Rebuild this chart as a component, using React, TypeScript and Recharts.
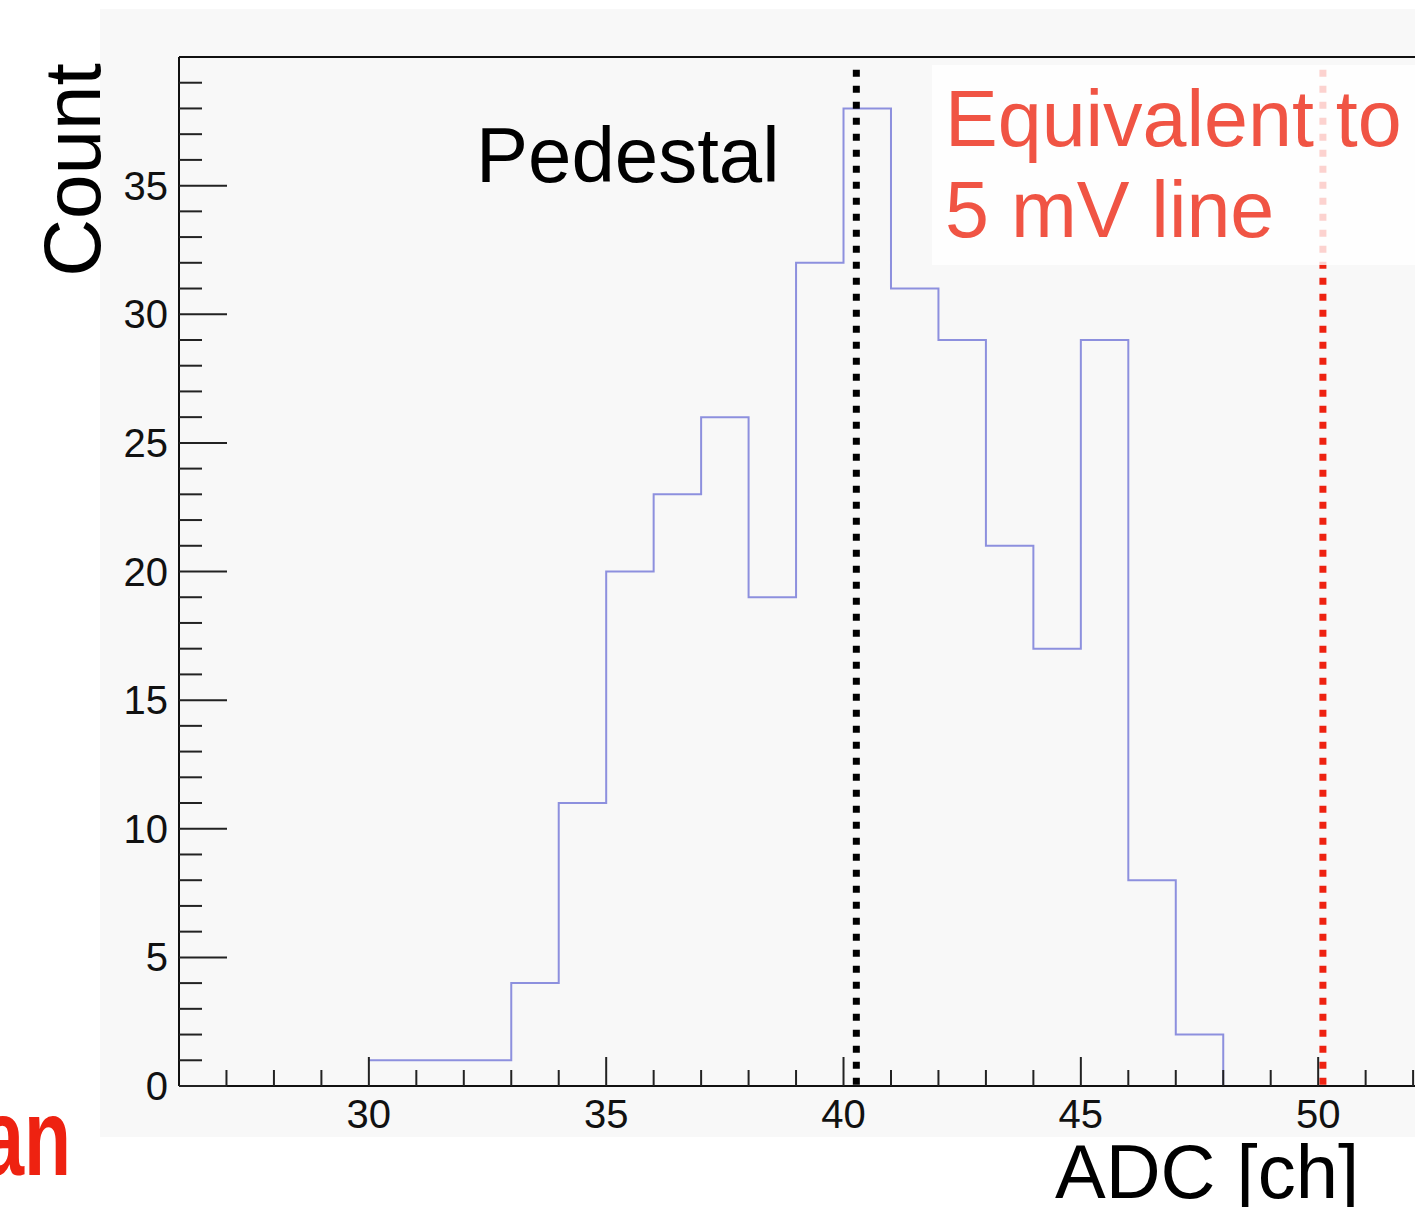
import React from "react";
import { ComposedChart, Line, XAxis, YAxis, ReferenceLine } from "recharts";

// histogram bins (lower edge) and their counts
const binLow = [30, 31, 32, 33, 34, 35, 36, 37, 38, 39, 40, 41, 42, 43, 44, 45, 46, 47];
const lastEdge = 48;
const counts = [1, 1, 1, 4, 11, 20, 23, 26, 19, 32, 38, 31, 29, 21, 17, 29, 8, 2];

const xTicks = [26, 27, 28, 29, 30, 31, 32, 33, 34, 35, 36, 37, 38, 39, 40, 41, 42, 43, 44, 45, 46, 47, 48, 49, 50, 51, 52];
const xLabels = [30, 35, 40, 45, 50];
const yTicks = [0, 1, 2, 3, 4, 5, 6, 7, 8, 9, 10, 11, 12, 13, 14, 15, 16, 17, 18, 19, 20, 21, 22, 23, 24, 25, 26, 27, 28, 29, 30, 31, 32, 33, 34, 35, 36, 37, 38, 39];
const yLabels = [0, 5, 10, 15, 20, 25, 30, 35];

const pedestalAdc = 40.27;
const fiveMvAdc = 50.1;
const markerTop = 39.5;

const FONT = "'Liberation Sans', Arial, Helvetica, sans-serif";

const data = [
    ...binLow.map((x, i) => ({ adc: x, count: counts[i] })),
    { adc: lastEdge, count: 0 },
];

function XTick(props: any) {
    const { x, y, payload } = props;
    const v = payload.value;
    if (v <= 26) return <g />;
    const major = v % 5 === 0;
    return (
        <g>
            <line x1={x} y1={y} x2={x} y2={y - (major ? 29 : 16)} stroke="#222" strokeWidth={2} />
            {xLabels.includes(v) && (
                <text x={x} y={y + 42} textAnchor="middle" fontSize={40} fill="#111" fontFamily={FONT}>
                    {v}
                </text>
            )}
        </g>
    );
}

function YTick(props: any) {
    const { x, y, payload } = props;
    const v = payload.value;
    const major = v % 5 === 0;
    return (
        <g>
            <line x1={x} y1={y} x2={x + (major ? 48 : 23)} y2={y} stroke="#222" strokeWidth={2} />
            {yLabels.includes(v) && (
                <text x={x - 11} y={y + 14} textAnchor="end" fontSize={40} fill="#111" fontFamily={FONT}>
                    {v}
                </text>
            )}
        </g>
    );
}

export default function App() {
    return (
        <div style={{ position: "absolute", left: 0, top: 0, width: 1415, height: 1207, overflow: "hidden", background: "#fff" }}>
            <div style={{ position: "absolute", left: 100, top: 9, width: 1315, height: 1128, background: "#f8f8f8" }} />
            <div style={{ position: "absolute", left: 0, top: 0 }}>
                <ComposedChart width={1415} height={1207} data={data} margin={{ top: 57, right: 0, left: 0, bottom: 0 }}>
                    <XAxis
                        dataKey="adc"
                        type="number"
                        domain={[26, 52.04]}
                        allowDataOverflow
                        ticks={xTicks}
                        interval={0}
                        tick={XTick}
                        tickLine={false}
                        tickSize={0}
                        tickMargin={0}
                        height={121}
                        axisLine={{ stroke: "#111", strokeWidth: 2 }}
                    />
                    <YAxis
                        type="number"
                        domain={[0, 40]}
                        allowDataOverflow
                        ticks={yTicks}
                        interval={0}
                        tick={YTick}
                        tickLine={false}
                        tickSize={0}
                        tickMargin={0}
                        width={179}
                        axisLine={{ stroke: "#111", strokeWidth: 2 }}
                    />
                    <ReferenceLine y={40} stroke="#111" strokeWidth={2} ifOverflow="visible" />
                    <Line
                        type="stepAfter"
                        dataKey="count"
                        stroke="#8d90de"
                        strokeWidth={2}
                        dot={false}
                        activeDot={false}
                        isAnimationActive={false}
                    />
                    <ReferenceLine
                        segment={[{ x: pedestalAdc, y: markerTop }, { x: pedestalAdc, y: 0 }]}
                        stroke="#000"
                        strokeWidth={7}
                        strokeDasharray="7 9"
                    />
                    <ReferenceLine
                        segment={[{ x: fiveMvAdc, y: markerTop }, { x: fiveMvAdc, y: 0 }]}
                        stroke="#ee2211"
                        strokeWidth={7}
                        strokeDasharray="7 9"
                    />
                </ComposedChart>
            </div>
            <svg
                width={1415}
                height={1207}
                style={{ position: "absolute", left: 0, top: 0, pointerEvents: "none" }}
                fontFamily={FONT}
            >
                <rect x={932} y={65} width={483} height={200} fill="#fff" fillOpacity={0.8} />
                <text x={945} y={146} fontSize={79} fill="#f05444">Equivalent to</text>
                <text x={945} y={237} fontSize={79} fill="#f05444">5 mV line</text>
                <text x={476} y={182} fontSize={78} fill="#000">Pedestal</text>
                <text x={100} y={170} fontSize={80} fill="#000" textAnchor="middle" transform="rotate(-90 100 170)">
                    Count
                </text>
                <text x={1055} y={1198} fontSize={76} fill="#000">ADC [ch]</text>
                <g transform="translate(71 1175) scale(0.7 1)">
                    <text x={0} y={0} fontSize={110} fontWeight="bold" fill="#ee2211" textAnchor="end">an</text>
                </g>
            </svg>
        </div>
    );
}
